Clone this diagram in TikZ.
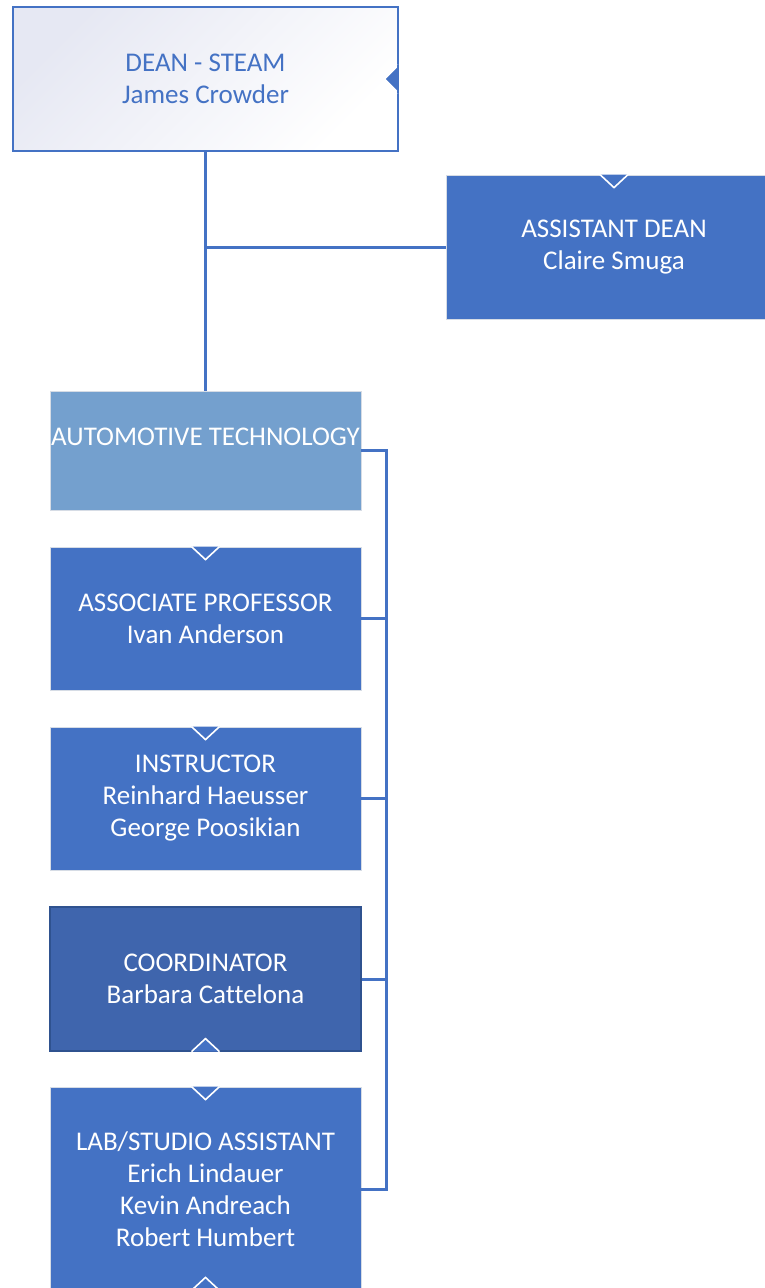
\documentclass[tikz,border=0pt]{standalone}
\usepackage{fontspec}
\setmainfont{Carlito}[Ligatures=NoCommon]
\usetikzlibrary{calc}
\definecolor{mainblue}{HTML}{4472C4}
\definecolor{lightblue}{HTML}{74A0CE}
\definecolor{darkblue}{HTML}{3F65AD}
\definecolor{darkedge}{HTML}{2F528F}
\definecolor{paleedge}{HTML}{D6DCE5}
\definecolor{deanshade}{HTML}{E6E8F3}
\tikzset{
  orgbox/.style={draw=paleedge, line width=0.8pt, fill=mainblue, text=white, align=center,
    font=\fontsize{27}{32}\selectfont, inner sep=0pt, minimum width=311pt, minimum height=143pt},
  conn/.style={draw=mainblue, line width=3pt},
  marker/.style={draw=white, line width=1.6pt, fill=mainblue, line join=miter},
  lbl/.style={text=white, align=center, font=\fontsize{27}{32}\selectfont, inner sep=0pt}
}
\begin{document}
\begin{tikzpicture}[x=1pt,y=-1pt]
\useasboundingbox (0,0) rectangle (765,1288);
\clip (0,0) rectangle (765,1288);
\fill[white] (0,0) rectangle (765,1288);

% Dean box
\node[orgbox, minimum width=385pt, minimum height=144pt, draw=none, fill=none] (dean) at (205.5,79) {};
\shade[left color=deanshade, right color=white, shading angle=45] (dean.south west) rectangle (dean.north east);
\draw[mainblue, line width=2pt] (dean.south west) rectangle (dean.north east);
\node[lbl, text=mainblue] (deantxt) at (dean.center) {DEAN - STEAM\\James Crowder};

% Other boxes
\node[orgbox, minimum width=336pt, minimum height=144pt] (assist) at (614,247) {ASSISTANT DEAN\\Claire Smuga};
\node[orgbox, fill=lightblue, minimum height=119pt] (auto) at (205.5,450.5) {};
\node[lbl] (autotxt) at (205.5,437) {AUTOMOTIVE TECHNOLOGY};
\node[orgbox] (assoc) at (205.5,618.5) {ASSOCIATE PROFESSOR\\Ivan Anderson};
\node[orgbox] (instr) at (205.5,798.5) {INSTRUCTOR\\Reinhard Haeusser\\George Poosikian};
\node[orgbox, fill=darkblue, draw=darkedge, line width=1.2pt, minimum height=144pt] (coord) at (205.5,979) {COORDINATOR\\Barbara Cattelona};
\node[orgbox, minimum height=204pt] (lab) at (205.5,1189) {LAB/STUDIO ASSISTANT\\Erich Lindauer\\Kevin Andreach\\Robert Humbert};

% Connectors
\coordinate (bx) at (386,0);
\draw[conn] (dean.south) -- (auto.north);
\draw[conn] (dean.south |- assist.west) -- (assist.west);
\draw[conn] (auto.east) -- (auto.east -| bx) -- (lab.east -| bx) -- (lab.east);
\draw[conn] (assoc.east) -- (assoc.east -| bx);
\draw[conn] (instr.east) -- (instr.east -| bx);
\draw[conn] (coord.east) -- (coord.east -| bx);

% Markers
\filldraw[marker] ($(dean.east)+(0,-14)$) -- ($(dean.east)+(-14,0)$) -- ($(dean.east)+(0,14)$);
\fill[mainblue] ($(dean.east)+(-1,-14)$) rectangle ($(dean.east)+(1,14)$);
\filldraw[marker] ($(assist.north)+(-14,0)$) -- ($(assist.north)+(0,13)$) -- ($(assist.north)+(14,0)$);
\filldraw[marker] ($(assoc.north)+(-14,0)$) -- ($(assoc.north)+(0,13)$) -- ($(assoc.north)+(14,0)$);
\filldraw[marker] ($(instr.north)+(-14,0)$) -- ($(instr.north)+(0,13)$) -- ($(instr.north)+(14,0)$);
\filldraw[marker] ($(coord.south)+(-14,0)$) -- ($(coord.south)+(0,-13)$) -- ($(coord.south)+(14,0)$);
\filldraw[marker] ($(lab.north)+(-14,0)$) -- ($(lab.north)+(0,13)$) -- ($(lab.north)+(14,0)$);
\filldraw[marker] ($(lab.south)+(-14,-1)$) -- ($(lab.south)+(0,-14)$) -- ($(lab.south)+(14,-1)$);
\end{tikzpicture}
\end{document}
